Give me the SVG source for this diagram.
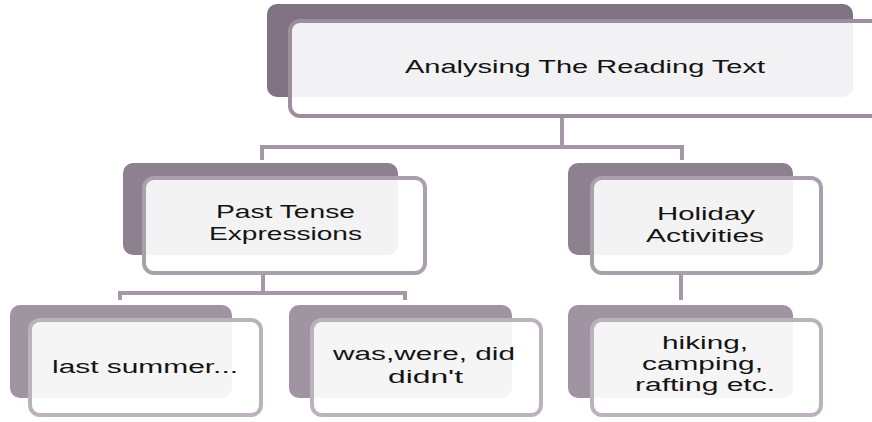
<svg xmlns="http://www.w3.org/2000/svg" width="872" height="422" viewBox="0 0 872 422">
  <style>
    .bg { fill: #ffffff; }
    .conn { fill: none; stroke: #a597a7; stroke-width: 4; }
    .back1 { fill: #7f7282; }
    .back2 { fill: #8d8190; }
    .back3 { fill: #a094a3; }
    .front { fill: #ffffff; fill-opacity: 0.9; stroke-width: 4; }
    .f1 { stroke: #9b8e9d; }
    .f2 { stroke: #aa9fac; }
    .f3 { stroke: #bcb2be; }
    .lbl { font-family: "Liberation Sans", Arial, sans-serif; font-size: 18px; fill: #141414; text-anchor: middle; }
  </style>
  <rect class="bg" x="0" y="0" width="872" height="422"/>

  <g id="connectors">
    <path class="conn" d="M562 116 V147 M262 160 V147 H682 V160"/>
    <path class="conn" d="M263 275 V293 M120 300 V293 H405 V300"/>
    <path class="conn" d="M681 275 V300"/>
  </g>

  <g id="node-root">
    <rect class="back1" x="267" y="4" width="586" height="93" rx="10"/>
    <rect class="front f1" x="290" y="21" width="600" height="95" rx="10"/>
    <text class="lbl" x="585" y="73" textLength="360" lengthAdjust="spacingAndGlyphs">Analysing The Reading Text</text>
  </g>

  <g id="node-past">
    <rect class="back2" x="123" y="163" width="275" height="92" rx="10"/>
    <rect class="front f2" x="144" y="178" width="281" height="95" rx="10"/>
    <text class="lbl" x="285.5" y="218" textLength="139" lengthAdjust="spacingAndGlyphs">Past Tense</text>
    <text class="lbl" x="285.5" y="240" textLength="153" lengthAdjust="spacingAndGlyphs">Expressions</text>
  </g>

  <g id="node-holiday">
    <rect class="back2" x="568" y="163" width="225" height="92" rx="10"/>
    <rect class="front f2" x="592" y="178" width="229" height="95" rx="10"/>
    <text class="lbl" x="706" y="220" textLength="98" lengthAdjust="spacingAndGlyphs">Holiday</text>
    <text class="lbl" x="705" y="242" textLength="118" lengthAdjust="spacingAndGlyphs">Activities</text>
  </g>

  <g id="node-last">
    <rect class="back3" x="10" y="305" width="222" height="93" rx="10"/>
    <rect class="front f3" x="30" y="320" width="231" height="95" rx="10"/>
    <text class="lbl" x="145" y="373" textLength="186" lengthAdjust="spacingAndGlyphs">last summer...</text>
  </g>

  <g id="node-was">
    <rect class="back3" x="289" y="305" width="223" height="93" rx="10"/>
    <rect class="front f3" x="312" y="320" width="229" height="95" rx="10"/>
    <text class="lbl" x="424" y="360" textLength="182" lengthAdjust="spacingAndGlyphs">was,were, did</text>
    <text class="lbl" x="425.5" y="383" textLength="75" lengthAdjust="spacingAndGlyphs">didn't</text>
  </g>

  <g id="node-hiking">
    <rect class="back3" x="568" y="305" width="225" height="93" rx="10"/>
    <rect class="front f3" x="592" y="320" width="229" height="95" rx="10"/>
    <text class="lbl" x="705" y="349" textLength="86" lengthAdjust="spacingAndGlyphs">hiking,</text>
    <text class="lbl" x="702.5" y="370" textLength="121" lengthAdjust="spacingAndGlyphs">camping,</text>
    <text class="lbl" x="705" y="391" textLength="140" lengthAdjust="spacingAndGlyphs">rafting etc.</text>
  </g>
</svg>
